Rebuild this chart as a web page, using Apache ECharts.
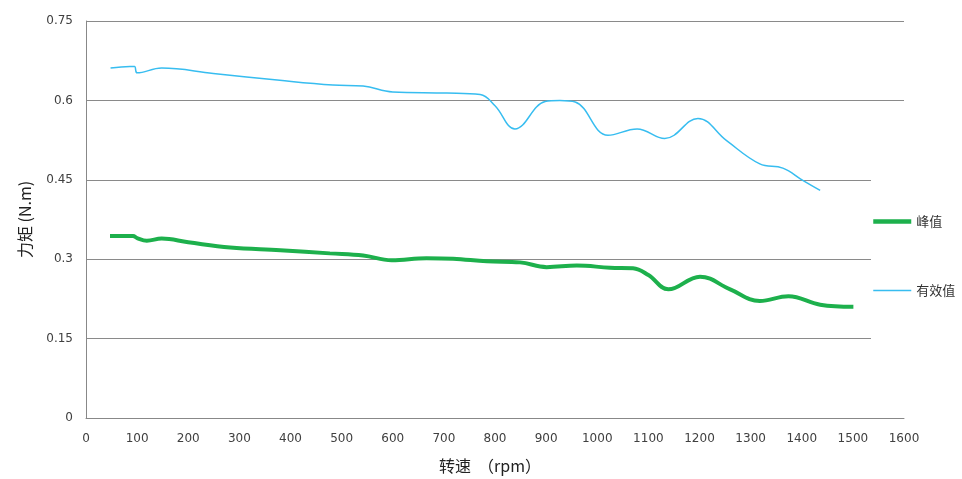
<!DOCTYPE html>
<html>
<head>
<meta charset="utf-8">
<script src="https://cdn.jsdelivr.net/npm/echarts@6/dist/echarts.min.js"></script>
<style>html,body{margin:0;padding:0;background:#fff;}#c{width:962px;height:479px;}</style>
</head>
<body>
<div id="c"></div>
<script>
const seriesNames = ['峰值', '有效值'];
const peakRpm = [47, 92, 100, 119, 148, 200, 282, 380, 477, 542, 598, 666, 718, 784, 849, 901, 960, 1025, 1070, 1100, 1139, 1201, 1260, 1318, 1374, 1436, 1501];
const peakVal = [0.344, 0.344, 0.340, 0.335, 0.339, 0.332, 0.322, 0.317, 0.311, 0.307, 0.298, 0.302, 0.301, 0.296, 0.294, 0.285, 0.288, 0.284, 0.283, 0.270, 0.243, 0.267, 0.243, 0.221, 0.230, 0.214, 0.210];
const rmsRpm = [48, 86, 95, 100, 148, 249, 379, 483, 542, 600, 706, 771, 800, 839, 898, 927, 957, 1021, 1078, 1132, 1197, 1253, 1318, 1363, 1402, 1436];
const rmsVal = [0.661, 0.664, 0.664, 0.652, 0.661, 0.651, 0.638, 0.629, 0.627, 0.616, 0.614, 0.611, 0.590, 0.546, 0.598, 0.600, 0.597, 0.534, 0.546, 0.528, 0.566, 0.524, 0.480, 0.472, 0.449, 0.430];
const yTicks = [0, 0.15, 0.3, 0.45, 0.6, 0.75];

const chart = echarts.init(document.getElementById('c'));
const pairs = (xs, ys) => xs.map((x, i) => [x, ys[i]]);
chart.setOption({
  animation: false,
  backgroundColor: '#fff',
  grid: { left: 86, right: 58, top: 21, bottom: 58 },
  legend: {
    orient: 'vertical',
    left: 871,
    top: 175,
    padding: [40, 40, 50, 0],
    backgroundColor: '#fff',
    itemWidth: 38,
    itemHeight: 14,
    itemGap: 56,
    itemStyle: { opacity: 0 },
    textStyle: { fontSize: 13, color: '#333', fontFamily: 'Noto Sans CJK SC' },
    data: [
      { name: seriesNames[0], lineStyle: { width: 4.5, color: '#1db04c' } },
      { name: seriesNames[1], lineStyle: { width: 1.5, color: '#37bdf0' } }
    ]
  },
  xAxis: {
    type: 'value',
    min: 0, max: 1600, interval: 100,
    name: '转速  （rpm）',
    nameLocation: 'middle',
    nameGap: 40,
    nameTextStyle: { fontSize: 16, color: '#222', fontFamily: 'Noto Sans CJK SC', padding: [0, 10, 0, 0] },
    axisLine: { show: true, lineStyle: { color: '#888', width: 1 } },
    axisTick: { show: false },
    axisLabel: { fontSize: 12, color: '#404040', margin: 15, fontFamily: 'DejaVu Sans', formatter: v => String(v) },
    splitLine: { show: false }
  },
  yAxis: {
    type: 'value',
    min: 0, max: 0.75, interval: 0.15,
    name: '力矩 (N.m)',
    nameLocation: 'middle',
    nameGap: 53,
    nameTextStyle: { fontSize: 16, color: '#222', fontFamily: 'Noto Sans CJK SC' },
    axisLine: { show: true, lineStyle: { color: '#888', width: 1 } },
    axisTick: { show: false },
    axisLabel: {
      fontSize: 12, color: '#404040', margin: 13, fontFamily: 'DejaVu Sans',
      formatter: v => { const t = yTicks.find(k => Math.abs(k - v) < 1e-6); return t === undefined ? '' : String(t); }
    },
    splitLine: { show: true, lineStyle: { color: '#8a8a8a', width: 1 } }
  },
  series: [
    {
      name: seriesNames[0], type: 'line', smooth: 0.4, symbol: 'none',
      lineStyle: { color: '#1db04c', width: 4 }, itemStyle: { color: '#1db04c' },
      data: pairs(peakRpm, peakVal)
    },
    {
      name: seriesNames[1], type: 'line', smooth: 0.4, symbol: 'none',
      lineStyle: { color: '#37bdf0', width: 1.5 }, itemStyle: { color: '#37bdf0' },
      data: pairs(rmsRpm, rmsVal)
    }
  ]
});
</script>
</body>
</html>
